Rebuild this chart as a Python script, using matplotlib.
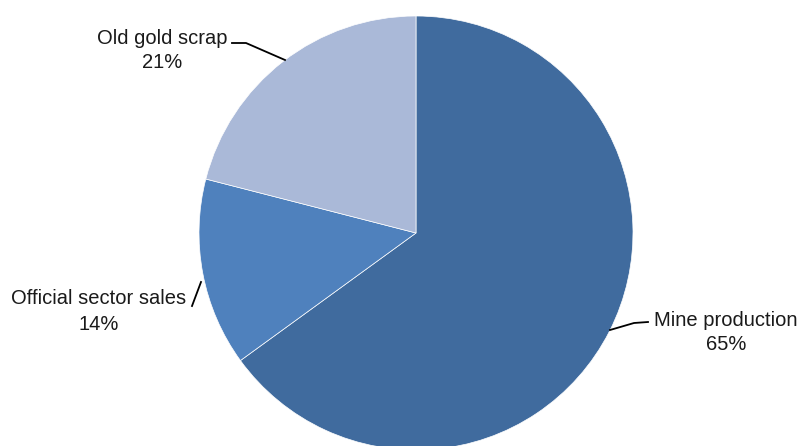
import matplotlib
matplotlib.use("Agg")
import matplotlib.pyplot as plt

labels = ["Mine production", "Official sector sales", "Old gold scrap"]
shares = [65, 14, 21]
colors = ["#406B9E", "#4F81BD", "#AAB9D8"]

fig = plt.figure(figsize=(8.02, 4.46), dpi=100)
ax = fig.add_axes([0, 0, 1, 1])

# pie centre and radius in pixel units (y measured from bottom)
cx, cy, r = 416, 213, 217
ax.pie(shares, colors=colors, startangle=90, counterclock=False,
       center=(cx, cy), radius=r, frame=True,
       wedgeprops=dict(edgecolor="white", linewidth=0.5))
ax.set_xlim(0, 802)
ax.set_ylim(0, 446)
ax.set_aspect("equal")
ax.axis("off")

font = dict(family="Liberation Sans", fontsize=14.5, color="#1a1a1a", ha="center", va="center")

# leader lines
ax.plot([232, 246, 285], [403, 403, 386], color="black", lw=1.3)
ax.plot([192, 201], [140, 164], color="black", lw=1.3)
ax.plot([648, 634, 610], [124, 123, 116], color="black", lw=1.3)

ax.text(162, 408, labels[2], **font)
ax.text(162, 384, f"{shares[2]}%", **font)
ax.text(99, 148, labels[1], **font)
ax.text(99, 121, f"{shares[1]}%", **font)
ax.text(726, 126, labels[0], **font)
ax.text(726, 101, f"{shares[0]}%", **font)

fig.savefig("out.png", dpi=100)
